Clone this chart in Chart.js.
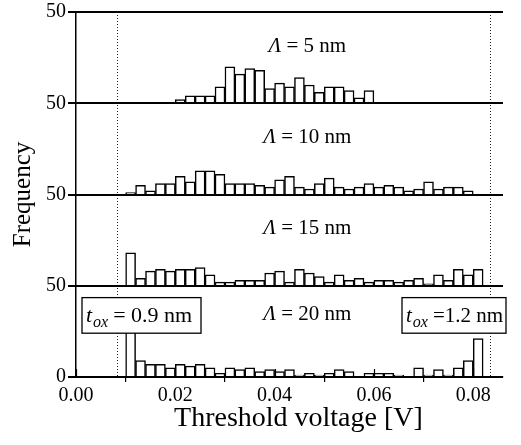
<!DOCTYPE html>
<html>
<head>
<meta charset="utf-8">
<script src="https://cdn.jsdelivr.net/npm/chart.js@4/dist/chart.umd.min.js"></script>
<style>
  html, body { margin: 0; padding: 0; background: #fff; }
  #wrap { width: 521px; height: 445px; }
</style>
</head>
<body>
<div id="wrap"><canvas id="c" width="521" height="445"></canvas></div>
<script>
// Histogram bins: 2 mV wide, each panel starts at its own first bin
const binWidth = 0.002;
const panelLabels = ['5', '10', '15', '20'];          // Λ in nm, top to bottom
const binStarts = [0.020, 0.010, 0.010, 0.010];
const panelOffsets = [150, 100, 50, 0];               // frequency baseline of each panel

const counts5 = [2, 4, 4, 4, 9, 20, 16, 19, 18, 8, 11, 9, 14, 10, 6, 9, 9, 7, 3, 7];
const counts10 = [1, 5, 2, 6, 6, 10, 7, 13, 13, 11, 6, 6, 6, 5, 4, 8, 10, 4, 3, 6,
                  9, 4, 3, 4, 6, 4, 5, 4, 2, 3, 7, 3, 4, 4, 2];
const counts15 = [18, 4, 8, 9, 8, 9, 9, 10, 6, 2, 2, 3, 3, 3, 7, 8, 2, 9, 7, 5,
                  2, 6, 3, 4, 2, 3, 3, 2, 3, 4, 1, 6, 3, 9, 6, 9];
const counts20 = [30, 9, 7, 7, 5, 7, 6, 7, 5, 2, 5, 4, 5, 3, 4, 3, 4, 1, 2, 1,
                  2, 4, 3, 0, 2, 2, 2, 1, 0, 5, 1, 4, 1, 5, 9, 21];
const panelCounts = [counts5, counts10, counts15, counts20];

const yTickValues = [0, 50, 100, 150, 200];
const yTickLabels = ['0', '50', '50', '50', '50'];
const xTickValues = [0, 0.02, 0.04, 0.06, 0.08];
const cutoffVoltages = [0.0083, 0.0834];              // dotted guide lines
const oxideThickness = ['= 0.9 nm', '=1.2 nm'];
const xAxisTitle = 'Threshold voltage [V]';

const SERIF = '"Liberation Serif", "Times New Roman", serif';

// bin centre, rounded so that bins shared by several panels coincide exactly
const binCentre = (start, i) => Math.round((start + binWidth * (i + 0.5)) * 1e6) / 1e6;

const datasets = panelCounts.map((counts, p) => ({
  type: 'bar',
  label: 'Λ = ' + panelLabels[p] + ' nm',
  data: counts.map((n, i) => ({
    x: binCentre(binStarts[p], i),
    y: [panelOffsets[p], panelOffsets[p] + n]
  })),
  backgroundColor: '#ffffff',
  borderColor: '#000000',
  borderWidth: 1.5,
  borderSkipped: 'start',
  barPercentage: 1,
  categoryPercentage: 1,
  grouped: false
}));

const decorations = {
  id: 'decorations',
  beforeDatasetsDraw(chart) {
    const {ctx, chartArea, scales: {x}} = chart;
    ctx.save();
    ctx.strokeStyle = '#222';
    ctx.lineWidth = 1;
    ctx.setLineDash([1, 2]);
    cutoffVoltages.forEach(v => {
      const px = Math.round(x.getPixelForValue(v)) + 0.5;
      ctx.beginPath();
      ctx.moveTo(px, chartArea.top);
      ctx.lineTo(px, chartArea.bottom);
      ctx.stroke();
    });
    ctx.restore();
  },
  afterDatasetsDraw(chart) {
    // panel baselines on top of the bars
    const {ctx, chartArea, scales: {y}} = chart;
    ctx.save();
    ctx.strokeStyle = '#000';
    ctx.lineWidth = 2;
    yTickValues.forEach(v => {
      const py = Math.round(y.getPixelForValue(v));
      ctx.beginPath();
      ctx.moveTo(chartArea.left, py);
      ctx.lineTo(chartArea.right, py);
      ctx.stroke();
    });
    ctx.restore();
  },
  afterDraw(chart) {
    const {ctx, chartArea, scales: {x, y}} = chart;
    ctx.save();
    // inward tick marks on the voltage axis
    ctx.strokeStyle = '#000';
    ctx.lineWidth = 1.2;
    xTickValues.forEach(v => {
      const px = Math.round(x.getPixelForValue(v)) + 0.5;
      ctx.beginPath();
      ctx.moveTo(px, chartArea.bottom);
      ctx.lineTo(px, chartArea.bottom - 8);
      ctx.stroke();
    });

    // voltage axis title
    ctx.fillStyle = '#000';
    ctx.font = '28px ' + SERIF;
    ctx.textAlign = 'center';
    ctx.textBaseline = 'middle';
    ctx.fillText(xAxisTitle, x.getPixelForValue(0.0448), 419);

    // panel titles
    ctx.textBaseline = 'alphabetic';
    const titleSize = 21;
    const labelY = [32, 32, 32, 35];
    panelLabels.forEach((lab, p) => {
      const italic = 'italic ' + titleSize + 'px ' + SERIF;
      const upright = titleSize + 'px ' + SERIF;
      const rest = ' = ' + lab + ' nm';
      ctx.font = italic; const w1 = ctx.measureText('Λ').width;
      ctx.font = upright; const w2 = ctx.measureText(rest).width;
      const cx = x.getPixelForValue(0.0466);
      const base = y.getPixelForValue(panelOffsets[p] + labelY[p]) + 7;
      const left = cx - (w1 + w2) / 2;
      ctx.font = italic; ctx.textAlign = 'left'; ctx.fillText('Λ', left, base);
      ctx.font = upright; ctx.fillText(rest, left + w1, base);
    });

    // oxide thickness boxes
    const boxTop = y.getPixelForValue(43.5);
    const boxBottom = y.getPixelForValue(24);
    const boxes = [
      [chartArea.left + 6, chartArea.left + 125],
      [chartArea.left + 326, chartArea.left + 430]
    ];
    const textSize = [22, 21];
    boxes.forEach(([l, r], k) => {
      ctx.fillStyle = '#fff';
      ctx.fillRect(l, boxTop, r - l, boxBottom - boxTop);
      ctx.strokeStyle = '#000';
      ctx.lineWidth = 1.3;
      ctx.setLineDash([]);
      ctx.strokeRect(l, boxTop, r - l, boxBottom - boxTop);
      const base = boxTop + 24;
      let tx = l + 4;
      ctx.fillStyle = '#000';
      ctx.textAlign = 'left';
      ctx.font = 'italic ' + textSize[k] + 'px ' + SERIF;
      ctx.fillText('t', tx, base);
      tx += ctx.measureText('t').width + 1;
      ctx.font = 'italic 16px ' + SERIF;
      ctx.fillText('ox', tx, base + 5);
      tx += ctx.measureText('ox').width + 5;
      ctx.font = textSize[k] + 'px ' + SERIF;
      ctx.fillText(oxideThickness[k], tx, base);
    });
    ctx.restore();
  }
};

new Chart(document.getElementById('c'), {
  data: { datasets },
  options: {
    responsive: false,
    animation: false,
    devicePixelRatio: 1,
    layout: { padding: { top: 10, right: 18, left: 0, bottom: 0 } },
    plugins: { legend: { display: false }, tooltip: { enabled: false } },
    scales: {
      x: {
        type: 'linear',
        offset: false,
        min: 0,
        max: 0.086,
        afterBuildTicks: s => { s.ticks = xTickValues.map(v => ({ value: v })); },
        afterFit: s => { s.height = 68; },
        ticks: {
          autoSkip: false,
          maxRotation: 0,
          padding: 2,
          color: '#000',
          font: { family: SERIF, size: 20 },
          callback: v => Number(v).toFixed(2)
        },
        grid: { drawOnChartArea: false, drawTicks: true, tickLength: 5, color: '#000', lineWidth: 1.2 },
        border: { display: true, color: '#000', width: 1.5 }
      },
      y: {
        min: 0,
        max: 200,
        afterBuildTicks: s => { s.ticks = yTickValues.map(v => ({ value: v })); },
        afterFit: s => { s.width = 76; },
        ticks: {
          padding: 2,
          color: '#000',
          font: { family: SERIF, size: 20, lineHeight: 1 },
          callback: v => yTickLabels[yTickValues.indexOf(v)]
        },
        grid: { color: '#000', lineWidth: 2, tickLength: 8, drawTicks: true },
        border: { display: true, color: '#000', width: 1.5 },
        title: {
          display: true,
          text: 'Frequency',
          color: '#000',
          font: { family: SERIF, size: 25 },
          padding: { top: 8, bottom: 0 }
        }
      }
    }
  },
  plugins: [decorations]
});
</script>
</body>
</html>
